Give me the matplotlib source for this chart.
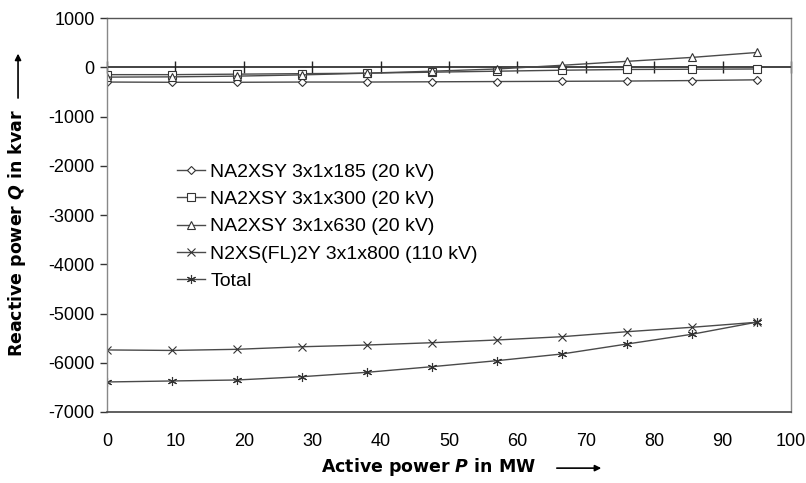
import matplotlib
matplotlib.use("Agg")
import matplotlib.pyplot as plt
from matplotlib.patches import FancyArrowPatch

plt.rcParams['font.family'] = ['Liberation Sans', 'DejaVu Sans']
plt.rcParams['axes.unicode_minus'] = False
plt.rcParams['mathtext.fontset'] = 'custom'
plt.rcParams['mathtext.rm'] = 'DejaVu Sans:bold'
plt.rcParams['mathtext.it'] = 'DejaVu Sans:bold:italic'
plt.rcParams['mathtext.bf'] = 'DejaVu Sans:bold'

P = [0, 9.5, 19, 28.5, 38, 47.5, 57, 66.5, 76, 85.5, 95]
q185 = [-300, -305, -305, -300, -300, -295, -290, -285, -280, -270, -255]
q300 = [-150, -150, -140, -130, -120, -100, -80, -60, -45, -40, -35]
q630 = [-200, -195, -180, -155, -120, -80, -35, 40, 120, 200, 300]
q800 = [-5740, -5750, -5727, -5675, -5640, -5593, -5538, -5471, -5370, -5280, -5178]
qtot = [-6390, -6370, -6350, -6283, -6194, -6080, -5958, -5822, -5620, -5422, -5175]

labels = ["NA2XSY 3x1x185 (20 kV)", "NA2XSY 3x1x300 (20 kV)",
          "NA2XSY 3x1x630 (20 kV)", "N2XS(FL)2Y 3x1x800 (110 kV)", "Total"]
markers = ['D', 's', '^', 'x', (6, 2, 0)]
msizes = [4.5, 5.5, 6, 5.5, 6.5]
series = [q185, q300, q630, q800, qtot]

fig = plt.figure(figsize=(8.06, 4.83), dpi=100)
ax = fig.add_axes([0.1328, 0.147, 0.8486, 0.8157])

for y, lab, m, ms in zip(series, labels, markers, msizes):
    ax.plot(P, y, color='#4a4a4a', lw=1.0, marker=m, markersize=ms,
            markerfacecolor='white', markeredgecolor='#333333',
            markeredgewidth=0.8, label=lab)

ax.axhline(0, color='#222222', lw=1.2, zorder=1)

ax.set_xlim(0, 100)
ax.set_ylim(-7000, 1000)
ax.set_xticks(range(0, 101, 10))
ax.set_yticks(range(-7000, 1001, 1000))
ax.tick_params(axis='x', length=0, pad=15, labelsize=13)
ax.tick_params(axis='y', length=5, width=1, color='#333333', direction='out', labelsize=13, pad=4)

for side in ['left', 'right']:
    ax.spines[side].set_color('#888888')
    ax.spines[side].set_linewidth(1.0)
ax.spines['top'].set_color('#555555')
ax.spines['top'].set_linewidth(1.0)
ax.spines['bottom'].set_color('#444444')
ax.spines['bottom'].set_linewidth(1.2)

sec = ax.secondary_xaxis(7000 / 8000)
sec.set_xticks(range(0, 101, 10))
sec.tick_params(axis='x', direction='inout', length=8, width=1, color='#222222',
                bottom=True, top=False, labelbottom=False, labeltop=False)
for s in sec.spines.values():
    s.set_visible(False)

ax.set_xlabel(r"Active power $\mathit{P}$ in MW", fontsize=12.5, fontfamily='DejaVu Sans',
              fontweight='bold')
ax.set_ylabel(r"Reactive power $\mathit{Q}$ in kvar", fontsize=12.5, fontfamily='DejaVu Sans',
              fontweight='bold')
ax.xaxis.set_label_coords(0.47, -0.112)
ax.yaxis.set_label_coords(-0.1155, 0.455)

ax.legend(loc='upper left', bbox_to_anchor=(0.077, 0.676), frameon=False, fontsize=14,
          handlelength=1.45, handletextpad=0.25, labelspacing=0.5)

fig.canvas.draw()
r = fig.canvas.get_renderer()
xb = ax.xaxis.label.get_window_extent(r)
ycen = (xb.y0 + xb.y1) / 2 - 1
fig.add_artist(FancyArrowPatch((xb.x1 + 18, ycen), (xb.x1 + 68, ycen),
                               transform=None, arrowstyle='-|>', mutation_scale=9,
                               lw=1.2, color='black'))
yb = ax.yaxis.label.get_window_extent(r)
xcen = (yb.x0 + yb.x1) / 2 + 1
fig.add_artist(FancyArrowPatch((xcen, yb.y1 + 8), (xcen, yb.y1 + 58),
                               transform=None, arrowstyle='-|>', mutation_scale=9,
                               lw=1.2, color='black'))

fig.savefig("out.png", dpi=100)
